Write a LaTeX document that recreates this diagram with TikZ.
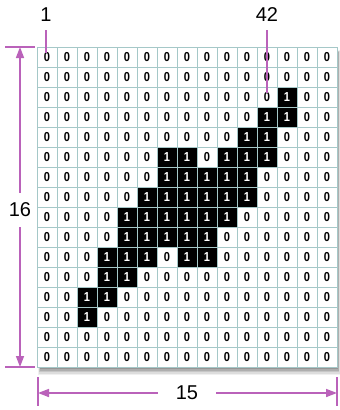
\documentclass[tikz,border=0pt]{standalone}
\usepackage{fontspec}
\setmainfont{Liberation Sans}
\newfontfamily\cellfont[FakeStretch=0.85]{Liberation Sans}
\usetikzlibrary{arrows.meta}
\definecolor{dimc}{RGB}{186,98,186}
\definecolor{gridc}{RGB}{165,200,200}
\tikzset{
  cellbox/.style={draw=gridc, line width=1pt, minimum width=20pt, minimum height=20pt, inner sep=0pt, font=\cellfont\bfseries\fontsize{13}{13}\selectfont},
  onecell/.style={cellbox, fill=black, text=white},
  zerocell/.style={cellbox, fill=white, text=black},
  dimline/.style={draw=dimc, line width=1.6pt},
  dimarrow/.style={dimline, {Triangle[length=11pt,width=8pt]}-{Triangle[length=11pt,width=8pt]}},
  biglabel/.style={font=\fontsize{20}{20}\selectfont, inner sep=2pt},
}
\begin{document}
\begin{tikzpicture}[x=1pt,y=-1pt]
\useasboundingbox (0,0) rectangle (340,410);
% drop shadow
\foreach \k/\op in {0/0.06,1/0.08,2/0.1,3/0.12,4/0.14} {
  \fill[black, opacity=\op] (37+1+\k*0.6,47+3+\k*0.6) rectangle (337+3-\k*0.5,367+8-\k*1.4);
}
\def\bits{{0,0,0,0,0,0,0,0,0,0,0,0,0,0,0,
0,0,0,0,0,0,0,0,0,0,0,0,0,0,0,
0,0,0,0,0,0,0,0,0,0,0,0,1,0,0,
0,0,0,0,0,0,0,0,0,0,0,1,1,0,0,
0,0,0,0,0,0,0,0,0,0,1,1,0,0,0,
0,0,0,0,0,0,1,1,0,1,1,1,0,0,0,
0,0,0,0,0,0,1,1,1,1,1,0,0,0,0,
0,0,0,0,0,1,1,1,1,1,1,0,0,0,0,
0,0,0,0,1,1,1,1,1,1,0,0,0,0,0,
0,0,0,0,1,1,1,1,1,0,0,0,0,0,0,
0,0,0,1,1,1,0,1,1,0,0,0,0,0,0,
0,0,0,1,1,0,0,0,0,0,0,0,0,0,0,
0,0,1,1,0,0,0,0,0,0,0,0,0,0,0,
0,0,1,0,0,0,0,0,0,0,0,0,0,0,0,
0,0,0,0,0,0,0,0,0,0,0,0,0,0,0,
0,0,0,0,0,0,0,0,0,0,0,0,0,0,0}}
\foreach \r in {0,...,15} {
  \foreach \c in {0,...,14} {
    \pgfmathtruncatemacro\v{\bits[\r*15+\c]}
    \ifnum\v=1
      \node[onecell] (c\r-\c) at (47+20*\c,57+20*\r) {1};
    \else
      \node[zerocell] (c\r-\c) at (47+20*\c,57+20*\r) {0};
    \fi
  }
}
% index labels
\node[biglabel] (lab1) at (46,15) {1};
\node[biglabel] (lab42) at (267,15) {42};
\coordinate (p1) at (46,53);
\coordinate (p42) at (267,93);
\draw[dimline] (46,30) -- (p1);
\draw[dimline] (267,30) -- (p42);
% vertical dimension
\coordinate (vt1) at (5,47);
\coordinate (vt2) at (35,47);
\coordinate (vb1) at (5,367);
\coordinate (vb2) at (35,367);
\draw[dimline, line width=1.2pt] (vt1) -- (vt2);
\draw[dimline, line width=1.2pt] (vb1) -- (vb2);
\coordinate (vtop) at (20,47);
\coordinate (vbot) at (20,367);
\draw[dimarrow] (vtop) -- (vbot);
\node[biglabel, fill=white, minimum height=34pt] (lab16) at (20,210) {16};
% horizontal dimension
\coordinate (hl1) at (38,377);
\coordinate (hl2) at (38,406);
\coordinate (hr1) at (337,377);
\coordinate (hr2) at (337,406);
\draw[dimline, line width=1.2pt] (hl1) -- (hl2);
\draw[dimline, line width=1.2pt] (hr1) -- (hr2);
\coordinate (hleft) at (38,393);
\coordinate (hright) at (337,393);
\draw[dimarrow] (hleft) -- (hright);
\node[biglabel, fill=white, minimum width=58pt] (lab15) at (187,393) {15};
\end{tikzpicture}
\end{document}
